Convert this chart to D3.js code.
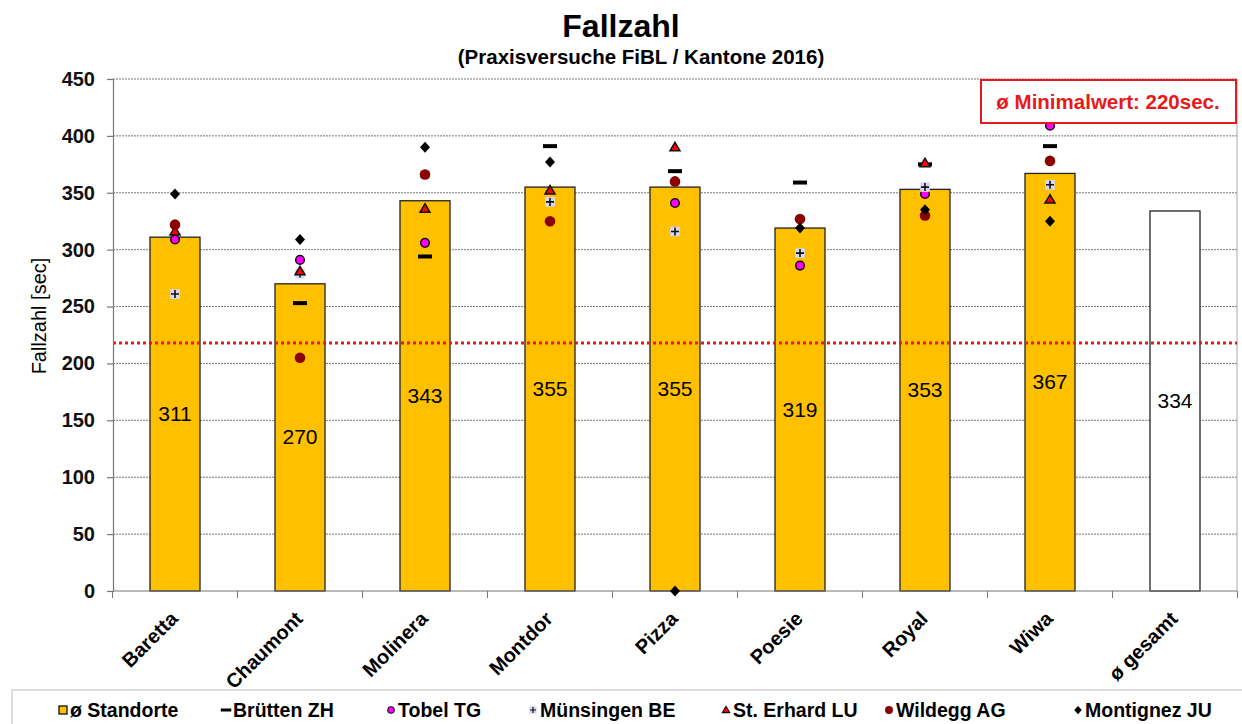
<!DOCTYPE html>
<html><head><meta charset="utf-8">
<script src="https://cdn.jsdelivr.net/npm/d3@7"></script>
<style>body{margin:0;background:#fff;font-family:"Liberation Sans",Arial,sans-serif}</style>
</head><body><svg id="c" width="1242" height="724"></svg>
<script>
const categories = ["Baretta","Chaumont","Molinera","Montdor","Pizza","Poesie","Royal","Wiwa","ø gesamt"];
const meanValues = [311,270,343,355,355,319,353,367,334];
const bruetten   = [null,253,294,391,369,359,375,391,null];
const tobel      = [309,291,306,null,341,286,349,409,null];
const muensingen = [261,279,366,342,316,297,355,357,null];
const erhard     = [316,281,336,352,390,null,376,344,null];
const wildegg    = [322,205,366,325,360,327,330,378,null];
const montignez  = [349,309,390,377,0,319,335,325,null];
const yTicks = [0,50,100,150,200,250,300,350,400,450];
const minValue = 218;

const svg = d3.select("#c");
const x = d3.scaleBand().domain(categories).range([112.5,1237.5]).paddingInner(0).paddingOuter(0);
const y = d3.scaleLinear().domain([0,450]).range([591,79]);
const bw = 50;
const cx = c => x(c) + x.bandwidth()/2;

// title
svg.append("text").attr("x",621).attr("y",37).attr("text-anchor","middle")
  .style("font-size","32px").style("font-weight","bold").text("Fallzahl");
svg.append("text").attr("x",641).attr("y",64).attr("text-anchor","middle")
  .style("font-size","20.5px").style("font-weight","bold").text("(Praxisversuche FiBL / Kantone 2016)");

// gridlines
svg.append("g").selectAll("line").data(yTicks.filter(d=>d>0)).join("line")
  .attr("x1",113).attr("x2",1237).attr("y1",d=>y(d)).attr("y2",d=>y(d))
  .attr("stroke","#777").attr("stroke-width",1).attr("stroke-dasharray","2,1");
svg.append("line").attr("x1",1237).attr("x2",1237).attr("y1",y(450)).attr("y2",y(0)).attr("stroke","#aaa");

// bars
svg.append("g").selectAll("rect").data(categories).join("rect")
  .attr("x",c=>cx(c)-bw/2).attr("width",bw)
  .attr("y",(c,i)=>y(meanValues[i])).attr("height",(c,i)=>y(0)-y(meanValues[i]))
  .attr("fill",(c,i)=>i===categories.length-1?"#fff":"#ffc000")
  .attr("stroke","#222").attr("stroke-width",1.3);

// bar labels
svg.append("g").selectAll("text").data(categories).join("text")
  .attr("x",c=>cx(c)).attr("y",(c,i)=>(y(meanValues[i])+y(0))/2+7)
  .attr("text-anchor","middle").style("font-size","21px").text((c,i)=>meanValues[i]);

// red min line
svg.append("line").attr("x1",113).attr("x2",1237).attr("y1",y(minValue)).attr("y2",y(minValue))
  .attr("stroke","#e8191b").attr("stroke-width",3).attr("stroke-dasharray","3,3");

// axes
const yAxis = d3.axisLeft(y).tickValues(yTicks).tickSize(6).tickPadding(12);
const gy = svg.append("g").attr("transform","translate(113,0)").call(yAxis);
gy.selectAll("text").style("font-size","20px").style("font-weight","bold").style("font-family","Liberation Sans").attr("fill","#111");
gy.selectAll("line,path").attr("stroke","#777").attr("stroke-width",1.2);

const gx = svg.append("g").attr("transform","translate(0,591)");
gx.append("line").attr("x1",113).attr("x2",1237).attr("stroke","#777").attr("stroke-width",1.2);
gx.selectAll("line.t").data(d3.range(categories.length+1)).join("line").attr("class","t")
  .attr("x1",i=>112.5+i*x.bandwidth()).attr("x2",i=>112.5+i*x.bandwidth()).attr("y1",0).attr("y2",7)
  .attr("stroke","#777");
gx.selectAll("text").data(categories).join("text")
  .attr("transform",c=>`translate(${cx(c)+4},${29}) rotate(-45)`)
  .attr("text-anchor","end").style("font-size","20px").style("font-weight","bold").text(c=>c);

svg.append("text").attr("transform","translate(46,316) rotate(-90)").attr("text-anchor","middle")
  .style("font-size","20px").text("Fallzahl [sec]");

// markers
const sym = {
  dash: (g)=>g.append("rect").attr("x",-7).attr("y",-2).attr("width",14).attr("height",4).attr("fill","#000"),
  tobel: (g)=>g.append("circle").attr("r",4.3).attr("fill","#ff00ff").attr("stroke","#111").attr("stroke-width",1.5),
  plus: (g)=>{g.append("rect").attr("x",-4.8).attr("y",-4.8).attr("width",9.6).attr("height",9.6).attr("fill","#d6d6f5");
    g.append("path").attr("d","M-4,0H4M0,-4V4").attr("stroke","#111").attr("stroke-width",1.6);},
  tri: (g)=>g.append("path").attr("d","M0,-5L5,3.5H-5Z").attr("fill","#ff0000").attr("stroke","#111").attr("stroke-width",1.5),
  wild: (g)=>g.append("circle").attr("r",5.3).attr("fill","#8b0000"),
  diam: (g)=>g.append("path").attr("d","M0,-5.5L5,0L0,5.5L-5,0Z").attr("fill","#000")
};
const series = [
  {name:"Brütten ZH", vals:bruetten, s:"dash"},
  {name:"Tobel TG", vals:tobel, s:"tobel"},
  {name:"Münsingen BE", vals:muensingen, s:"plus"},
  {name:"St. Erhard LU", vals:erhard, s:"tri"},
  {name:"Wildegg AG", vals:wildegg, s:"wild"},
  {name:"Montignez JU", vals:montignez, s:"diam"}
];
["dash","tobel","plus","tri","wild","diam"].forEach(k=>{
  const se = series.find(s=>s.s===k);
  se.vals.forEach((v,i)=>{
    if(v===null) return;
    const g = svg.append("g").attr("transform",`translate(${cx(categories[i])},${y(v)})`);
    sym[k](g);
  });
});

// annotation box
svg.append("rect").attr("x",981).attr("y",80).attr("width",255).attr("height",43)
  .attr("fill","#fff").attr("stroke","#e8191b").attr("stroke-width",2);
svg.append("text").attr("x",1108).attr("y",109).attr("text-anchor","middle")
  .style("font-size","20.5px").style("font-weight","bold").attr("fill","#e8191b").text("ø Minimalwert:  220sec.");

// legend
svg.append("rect").attr("x",12).attr("y",690).attr("width",1240).attr("height",40).attr("fill","#fff").attr("stroke","#bbb");
const leg = [
  {name:"ø Standorte", s:"bar", x:63},
  {name:"Brütten ZH", s:"dash", x:226},
  {name:"Tobel TG", s:"tobel", x:391},
  {name:"Münsingen BE", s:"plus", x:533},
  {name:"St. Erhard LU", s:"tri", x:726},
  {name:"Wildegg AG", s:"wild", x:889},
  {name:"Montignez JU", s:"diam", x:1078}
];
leg.forEach(l=>{
  const g = svg.append("g").attr("transform",`translate(${l.x},710)`);
  if(l.s==="bar") g.append("rect").attr("x",-4).attr("y",-4).attr("width",8).attr("height",8).attr("fill","#ffc000").attr("stroke","#111").attr("stroke-width",1.3);
  else {
    const m = g.append("g").attr("transform","scale(0.75)");
    sym[l.s](m);
  }
  svg.append("text").attr("x",l.x+7).attr("y",717).style("font-size","19.5px").style("font-weight","bold").text(l.name);
});
</script></body></html>
